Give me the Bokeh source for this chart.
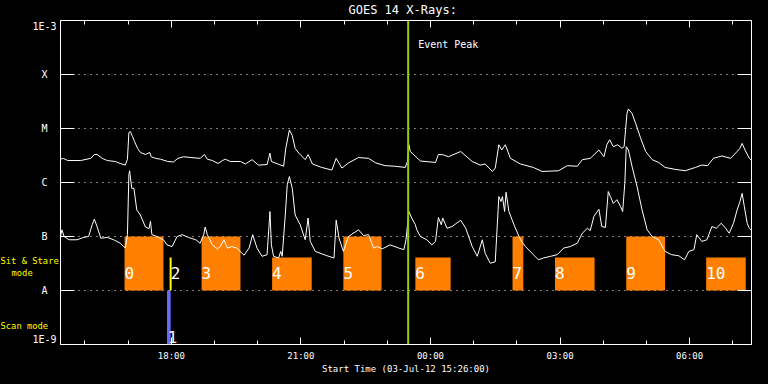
import pandas as pd
from bokeh.plotting import figure
from bokeh.layouts import row
from bokeh.models import (FixedTicker, LogAxis, DatetimeAxis, DatetimeTickFormatter,
                          CustomJSTickFormatter, Label, Span, ColumnDataSource, Range1d)
from bokeh.core.properties import value
from bokeh.embed import file_html
from bokeh.resources import INLINE

# ---------------- data ----------------
title_text = "GOES 14 X-Rays:"
xlabel_text = "Start Time (03-Jul-12 15:26:00)"
start_time = "15:26"
end_time = "07:26"
event_peak = "23:29"

# GOES long channel (1-8 A), W/m^2
long_times = ["15:26", "15:30", "15:36", "15:54", "16:08", "16:13", "16:17", "16:24", "16:31", "16:42",
              "16:49", "16:56", "16:59", "17:01", "17:03", "17:06", "17:09", "17:13", "17:17", "17:24",
              "17:30", "17:32", "17:38", "17:45", "17:55", "18:03", "18:09", "18:17", "18:27", "18:40",
              "18:46", "18:50", "18:57", "19:05", "19:11", "19:15", "19:22", "19:36", "19:43", "19:52",
              "20:01", "20:13", "20:17", "20:19", "20:36", "20:39", "20:44", "20:48", "20:52", "20:57",
              "21:06", "21:10", "21:16", "21:29", "21:43", "21:49", "21:57", "22:06", "22:20", "22:34",
              "22:44", "22:57", "23:11", "23:25", "23:28", "23:30", "23:32", "23:46", "00:07", "00:11",
              "00:18", "00:25", "00:42", "00:58", "01:09", "01:16", "01:26", "01:30", "01:35", "01:39",
              "01:44", "01:51", "02:05", "02:23", "02:35", "02:58", "03:10", "03:24", "03:31", "03:42",
              "03:54", "04:01", "04:05", "04:09", "04:14", "04:20", "04:26", "04:29", "04:33", "04:35",
              "04:40", "04:45", "04:52", "04:59", "05:08", "05:17", "05:26", "05:40", "05:54", "06:08",
              "06:17", "06:25", "06:33", "06:45", "06:57", "07:06", "07:10", "07:13", "07:17", "07:23",
              "07:26"]
long_flux = [2.7e-6, 2.8e-6, 2.55e-6, 2.55e-6, 2.8e-6, 3.3e-6, 3.3e-6, 2.8e-6, 2.55e-6, 2.45e-6,
             2.25e-6, 2.1e-6, 2.7e-6, 8.4e-6, 8.8e-6, 7.1e-6, 5.7e-6, 4.3e-6, 3.6e-6, 3.3e-6,
             3.6e-6, 3.0e-6, 2.8e-6, 2.7e-6, 2.45e-6, 2.4e-6, 2.8e-6, 3.0e-6, 2.9e-6, 2.8e-6,
             3.3e-6, 2.7e-6, 2.55e-6, 2.25e-6, 2.55e-6, 2.7e-6, 2.45e-6, 2.45e-6, 2.2e-6, 2.65e-6,
             2.1e-6, 2.15e-6, 3.5e-6, 2.45e-6, 2.0e-6, 4.3e-6, 9.4e-6, 7.4e-6, 4.3e-6, 3.5e-6,
             2.65e-6, 3.3e-6, 2.2e-6, 1.9e-6, 1.7e-6, 2.8e-6, 1.85e-6, 2.3e-6, 2.9e-6, 2.8e-6,
             2.3e-6, 2.05e-6, 2.0e-6, 1.9e-6, 2.45e-6, 5.0e-6, 3.75e-6, 2.5e-6, 2.35e-6, 3.3e-6,
             3.25e-6, 3.0e-6, 3.75e-6, 2.45e-6, 2.1e-6, 2.2e-6, 1.6e-6, 1.85e-6, 5.0e-6, 4.0e-6,
             5.0e-6, 2.8e-6, 2.2e-6, 1.9e-6, 1.6e-6, 1.65e-6, 2.05e-6, 2.0e-6, 2.65e-6, 2.8e-6,
             4.0e-6, 3.0e-6, 5.0e-6, 6.2e-6, 4.6e-6, 5.0e-6, 4.3e-6, 4.6e-6, 1.9e-5, 2.3e-5,
             1.9e-5, 1.25e-5, 6.6e-6, 3.75e-6, 2.65e-6, 2.35e-6, 1.9e-6, 1.75e-6, 1.65e-6, 1.9e-6,
             2.1e-6, 2.05e-6, 2.8e-6, 3.1e-6, 2.8e-6, 3.75e-6, 4.3e-6, 5.3e-6, 4.0e-6, 2.8e-6,
             2.6e-6]

# GOES short channel (0.5-4 A), W/m^2
short_times = ["15:26", "15:28", "15:31", "15:38", "15:49", "15:58", "16:05", "16:10", "16:13", "16:17",
               "16:22", "16:31", "16:40", "16:49", "16:56", "16:59", "17:01", "17:02", "17:05", "17:08",
               "17:12", "17:17", "17:24", "17:29", "17:31", "17:33", "17:40", "17:49", "17:54", "18:01",
               "18:08", "18:15", "18:24", "18:34", "18:40", "18:45", "18:47", "18:50", "18:57", "19:04",
               "19:08", "19:13", "19:18", "19:24", "19:31", "19:41", "19:48", "19:53", "19:59", "20:06",
               "20:13", "20:17", "20:19", "20:22", "20:29", "20:32", "20:34", "20:38", "20:41", "20:44",
               "20:48", "20:52", "20:59", "21:06", "21:10", "21:13", "21:20", "21:34", "21:46", "21:49",
               "21:53", "21:59", "22:06", "22:20", "22:27", "22:34", "22:41", "22:46", "22:53", "23:04",
               "23:16", "23:23", "23:26", "23:30", "23:34", "23:39", "23:41", "23:46", "23:55", "00:02",
               "00:07", "00:11", "00:15", "00:17", "00:23", "00:30", "00:42", "00:49", "00:58", "01:05",
               "01:12", "01:16", "01:23", "01:30", "01:35", "01:38", "01:40", "01:43", "01:45", "01:49",
               "01:56", "02:05", "02:12", "02:23", "02:30", "02:37", "02:47", "02:56", "03:05", "03:14",
               "03:24", "03:31", "03:38", "03:42", "03:47", "03:54", "03:58", "04:03", "04:07", "04:10",
               "04:14", "04:19", "04:24", "04:27", "04:30", "04:32", "04:35", "04:40", "04:47", "04:54",
               "05:01", "05:08", "05:17", "05:26", "05:35", "05:45", "05:53", "05:59", "06:06", "06:10",
               "06:17", "06:24", "06:31", "06:37", "06:44", "06:50", "06:55", "07:01", "07:06", "07:10",
               "07:13", "07:16", "07:20", "07:23", "07:26"]
short_flux = [1.0e-7, 1.33e-7, 1.0e-7, 8.7e-8, 8.7e-8, 9.6e-8, 1.0e-7, 1.65e-7, 2.1e-7, 1.5e-7,
              9.3e-8, 9.6e-8, 8.7e-8, 7.5e-8, 6.1e-8, 1.08e-7, 1.39e-6, 1.65e-6, 7.8e-7, 7.8e-7,
              3.1e-7, 2.5e-7, 1.5e-7, 1.4e-7, 1.9e-7, 1.08e-7, 1.0e-7, 8.7e-8, 7.0e-8, 6.5e-8,
              1.0e-7, 1.08e-7, 9.6e-8, 8.7e-8, 7.5e-8, 1.08e-7, 1.5e-7, 1.08e-7, 7.0e-8, 5.9e-8,
              6.5e-8, 8.7e-8, 6.1e-8, 6.5e-8, 6.1e-8, 4.5e-8, 6.1e-8, 1.08e-7, 6.1e-8, 4.3e-8,
              4.6e-8, 2.9e-7, 7.0e-8, 4.3e-8, 4.0e-8, 5.3e-8, 4.3e-8, 2.2e-7, 9.1e-7, 1.29e-6,
              7.8e-7, 2.5e-7, 1.65e-7, 8.7e-8, 2.2e-7, 8.1e-8, 5.3e-8, 4.5e-8, 4.0e-8, 2.0e-7,
              9.3e-8, 5.3e-8, 1.0e-7, 1.33e-7, 1.04e-7, 1.08e-7, 6.1e-8, 6.5e-8, 5.9e-8, 7.0e-8,
              6.1e-8, 5.7e-8, 8.7e-8, 2.9e-7, 2.2e-7, 1.65e-7, 1.33e-7, 1.0e-7, 8.7e-8, 7.0e-8,
              8.1e-8, 2.25e-7, 1.65e-7, 2.2e-7, 1.42e-7, 1.53e-7, 2.0e-7, 1.42e-7, 6.5e-8, 4.3e-8,
              8.7e-8, 4.9e-8, 3.2e-8, 3.4e-8, 5.5e-7, 4.45e-7, 5.5e-7, 2.9e-7, 6.6e-7, 2.9e-7,
              1.65e-7, 8.7e-8, 6.5e-8, 4.6e-8, 3.7e-8, 4.0e-8, 4.3e-8, 4.6e-8, 6.1e-8, 6.5e-8,
              7.5e-8, 1.15e-7, 1.42e-7, 1.29e-7, 2.35e-7, 3.2e-7, 1.53e-7, 1.47e-7, 6.8e-7, 5.5e-7,
              4.1e-7, 4.8e-7, 3.6e-7, 2.9e-7, 9.7e-7, 4.6e-6, 4.0e-6, 2.0e-6, 8.4e-7, 3.1e-7,
              1.33e-7, 1.0e-7, 8.7e-8, 5.3e-8, 4.6e-8, 4.4e-8, 3.7e-8, 5.3e-8, 5.7e-8, 1.08e-7,
              8.1e-8, 8.7e-8, 1.53e-7, 1.42e-7, 1.76e-7, 1.42e-7, 1.15e-7, 1.76e-7, 3.1e-7, 4.45e-7,
              6.3e-7, 3.6e-7, 1.76e-7, 1.42e-7, 1.3e-7]

# Flare-class axis
class_ticks = [1e-9, 1e-8, 1e-7, 1e-6, 1e-5, 1e-4, 1e-3]
class_names = ["1E-9", "A", "B", "C", "M", "X", "1E-3"]

# Time axis ticks
major_hours = ["18:00", "21:00", "00:00", "03:00", "06:00"]
minor_hours = ["16:00", "17:00", "19:00", "20:00", "22:00", "23:00", "01:00", "02:00",
               "04:00", "05:00", "07:00"]

# Sit & Stare observations
sit_ids = ["0", "3", "4", "5", "6", "7", "8", "9", "10"]
sit_start = ["16:55", "18:42", "20:20", "21:59", "23:39", "01:54", "02:53", "04:32", "06:23"]
sit_end = ["17:49", "19:36", "21:15", "22:52", "00:28", "02:09", "03:48", "05:26", "07:18"]
sit_top = [1e-7, 1e-7, 4.1e-8, 1e-7, 4.1e-8, 1e-7, 4.1e-8, 1e-7, 4.1e-8]
sit_floor = 1e-8

# Short sit & stare (raster 2) and scan (raster 1)
raster2_id = "2"
raster2_time = "17:59"
raster2_top = 4.1e-8
scan_id = "1"
scan_start = "17:54"
scan_end = "17:59"
scan_floor = 1e-9
scan_top = 1e-8

mode_labels = ["Sit & Stare", "mode", "Scan mode"]


# ---------------- helpers ----------------
def stamp(hhmm):
    day = "2012-07-03" if int(hhmm[:2]) >= 12 else "2012-07-04"
    return pd.Timestamp(f"{day} {hhmm}")


def ms(hhmm):
    return (stamp(hhmm) - pd.Timestamp("1970-01-01")) / pd.Timedelta(milliseconds=1)


FONT = "DejaVu Sans Mono"
WHITE = "white"
YELLOW = "#ffff00"

# layout (pixels)
W, H = 768, 384
LEFT_W = 60
FRAME_W, FRAME_H = 691, 324
TOP_B = 19
BOT_B = H - TOP_B - FRAME_H
RIGHT_B = W - LEFT_W - FRAME_W

p = figure(x_axis_type="datetime", y_axis_type="log",
           frame_width=FRAME_W, frame_height=FRAME_H,
           min_border_left=0, min_border_right=RIGHT_B, min_border_top=TOP_B, min_border_bottom=BOT_B,
           x_range=Range1d(ms(start_time), ms(end_time)),
           y_range=Range1d(class_ticks[0], class_ticks[-1]),
           output_backend="svg", toolbar_location=None, title=title_text,
           background_fill_color="black", border_fill_color="black",
           outline_line_color=WHITE, outline_line_width=1)
p.title.align = "left"
p.title.offset = 288
p.title.vertical_align = "top"
p.title.text_color = WHITE
p.title.text_font = FONT
p.title.text_font_size = "12px"
p.title.text_font_style = "normal"
p.title.standoff = 4

# axes
xticker = FixedTicker(ticks=[ms(h) for h in major_hours], minor_ticks=[ms(h) for h in minor_hours])
yticker = FixedTicker(ticks=class_ticks, minor_ticks=[])
tfmt = DatetimeTickFormatter(seconds="%H:%M", minsec="%H:%M", minutes="%H:%M", hourmin="%H:%M",
                             hours="%H:%M", days="%H:%M", months="%H:%M", years="%H:%M")
blank = CustomJSTickFormatter(code="return '';")


def style_x(ax, show):
    ax.ticker = xticker
    ax.formatter = tfmt if show else blank
    ax.axis_line_color = None
    ax.major_tick_line_color = WHITE
    ax.minor_tick_line_color = WHITE
    ax.major_tick_in = 7
    ax.major_tick_out = 0
    ax.minor_tick_in = 4
    ax.minor_tick_out = 0
    ax.major_label_text_color = WHITE
    ax.major_label_text_font = FONT
    ax.major_label_text_font_size = "9px"
    ax.major_label_standoff = 6 if show else 0


def style_y(ax):
    ax.ticker = yticker
    ax.formatter = blank
    ax.axis_line_color = None
    ax.major_tick_line_color = WHITE
    ax.minor_tick_line_color = None
    ax.major_tick_in = 14
    ax.major_tick_out = 0
    ax.major_label_standoff = 0


style_x(p.xaxis[0], True)
p.xaxis[0].axis_label = xlabel_text
p.xaxis[0].axis_label_text_color = WHITE
p.xaxis[0].axis_label_text_font = FONT
p.xaxis[0].axis_label_text_font_size = "9px"
p.xaxis[0].axis_label_text_font_style = "normal"
p.xaxis[0].axis_label_standoff = 0
style_y(p.yaxis[0])
top_ax = DatetimeAxis()
style_x(top_ax, False)
p.add_layout(top_ax, "above")
right_ax = LogAxis()
style_y(right_ax)
p.add_layout(right_ax, "right")

p.xgrid.visible = False
p.ygrid.ticker = FixedTicker(ticks=class_ticks[1:-1], minor_ticks=[])
p.ygrid.grid_line_color = WHITE
p.ygrid.grid_line_dash = "1 5"
p.ygrid.grid_line_width = 1

# bars
sit_src = ColumnDataSource(dict(left=[ms(t) for t in sit_start], right=[ms(t) for t in sit_end],
                                top=sit_top, bottom=[sit_floor] * len(sit_top), ids=sit_ids))
p.quad(left="left", right="right", top="top", bottom="bottom", source=sit_src,
       fill_color="#ff8000", line_color=None)
p.quad(left=[ms(scan_start)], right=[ms(scan_end)], top=[scan_top], bottom=[scan_floor],
       fill_color="#6a6aff", line_color=None)
p.segment(x0=[ms(raster2_time)], x1=[ms(raster2_time)], y0=[sit_floor], y1=[raster2_top],
          line_color=YELLOW, line_width=2)

# curves
p.line([ms(t) for t in long_times], long_flux, line_color=WHITE, line_width=1)
p.line([ms(t) for t in short_times], short_flux, line_color=WHITE, line_width=1)

# event peak
p.add_layout(Span(location=ms(event_peak), dimension="height", line_color="#99cc00", line_width=2))
p.add_layout(Label(x=ms(event_peak), y=300, x_units="data", y_units="screen", x_offset=10,
                   text="Event Peak", text_color=WHITE, text_font=FONT, text_font_size="10px",
                   text_baseline="middle"))

# bar numbers
p.text(x="left", y=2.1e-8, text="ids", source=sit_src, text_color=WHITE,
       text_font=value(FONT), text_font_size="16px", text_baseline="middle", x_offset=0)
p.text(x=[ms(raster2_time)], y=[2.1e-8], text=[raster2_id], text_color=WHITE,
       text_font=value(FONT), text_font_size="16px", text_baseline="middle", x_offset=0)
p.text(x=[ms(scan_end)], y=[1.4e-9], text=[scan_id], text_color=WHITE,
       text_font=value(FONT), text_font_size="16px", text_baseline="middle", x_offset=-3)

# ---------------- left label strip (same flux scale, frame aligned with main frame) ----------------
q = figure(y_axis_type="log", frame_width=LEFT_W, frame_height=FRAME_H,
           min_border_left=0, min_border_right=0, min_border_top=TOP_B, min_border_bottom=BOT_B,
           x_range=Range1d(0, LEFT_W), y_range=Range1d(class_ticks[0], class_ticks[-1]),
           x_axis_location=None, y_axis_location=None,
           output_backend="svg", toolbar_location=None,
           background_fill_color="black", border_fill_color="black", outline_line_color=None)
q.xgrid.visible = False
q.ygrid.visible = False

letter_idx = [i for i, n in enumerate(class_names) if not n.startswith("1E")]
q.text(x=[44] * len(letter_idx), y=[class_ticks[i] for i in letter_idx],
       text=[class_names[i] for i in letter_idx],
       text_align="center", text_baseline="middle", text_color=WHITE,
       text_font=value(FONT), text_font_size="10px")
q.text(x=[56], y=[class_ticks[-1]], text=[class_names[-1]], text_align="right", text_baseline="top",
       text_color=WHITE, text_font=value(FONT), text_font_size="10px")
q.text(x=[56], y=[class_ticks[0]], text=[class_names[0]], text_align="right", text_baseline="bottom",
       text_color=WHITE, text_font=value(FONT), text_font_size="10px")

# mode labels, placed in screen pixels from the strip's frame bottom
for txt, lx, ly in zip(mode_labels, [0, 11, 0], [84, 72, 19]):
    q.add_layout(Label(x=lx, y=ly, x_units="screen", y_units="screen", text=txt,
                       text_color=YELLOW, text_font=FONT, text_font_size="8.8px",
                       text_baseline="middle"))

layout = row(q, p, spacing=0, styles={"background-color": "black"})
html = file_html(layout, INLINE)
html = html.replace("<body>", '<body style="background-color: black;">', 1)
open("out.html", "w").write(html)
